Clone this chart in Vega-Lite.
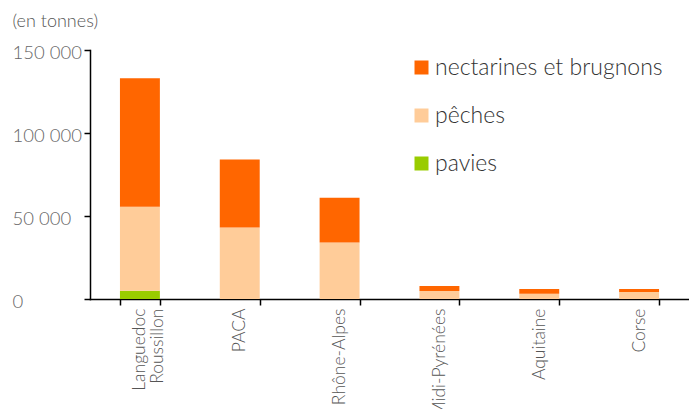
{
  "$schema": "https://vega.github.io/schema/vega-lite/v6.json",
  "autosize": "none",
  "width": 599,
  "height": 249,
  "padding": {"left": 90, "top": 50, "right": 0, "bottom": 110},
  "background": "white",
  "data": {
    "values": [
      {"region": "Languedoc\nRoussillon", "type": "pavies", "tonnes": 5000},
      {"region": "Languedoc\nRoussillon", "type": "pêches", "tonnes": 50500},
      {"region": "Languedoc\nRoussillon", "type": "nectarines et brugnons", "tonnes": 77500},
      {"region": "PACA", "type": "pêches", "tonnes": 43000},
      {"region": "PACA", "type": "nectarines et brugnons", "tonnes": 41000},
      {"region": "Rhône-Alpes", "type": "pêches", "tonnes": 34000},
      {"region": "Rhône-Alpes", "type": "nectarines et brugnons", "tonnes": 27000},
      {"region": "Midi-Pyrénées", "type": "pêches", "tonnes": 4800},
      {"region": "Midi-Pyrénées", "type": "nectarines et brugnons", "tonnes": 3000},
      {"region": "Aquitaine", "type": "pêches", "tonnes": 3200},
      {"region": "Aquitaine", "type": "nectarines et brugnons", "tonnes": 2800},
      {"region": "Corse", "type": "pêches", "tonnes": 4200},
      {"region": "Corse", "type": "nectarines et brugnons", "tonnes": 1800}
    ]
  },
  "transform": [
    {"calculate": "indexof(['pavies','pêches','nectarines et brugnons'], datum.type)", "as": "rang"}
  ],
  "mark": {"type": "bar"},
  "encoding": {
    "x": {
      "field": "region",
      "type": "nominal",
      "sort": null,
      "scale": {"paddingInner": 0.6, "paddingOuter": 0.3},
      "axis": {
        "title": null,
        "labelAngle": -90,
        "labelAlign": "right",
        "labelBaseline": "middle",
        "labelPadding": 3,
        "labelExpr": "split(datum.label, '\\n')",
        "labelLineHeight": 18,
        "labelFont": "Lato",
        "labelFontWeight": 300,
        "labelFontSize": 17.5,
        "labelColor": "#555555",
        "labelLimit": 0,
        "tickBand": "extent",
        "tickSize": 6,
        "tickWidth": 1.5,
        "tickColor": "#000000",
        "domainColor": "#000000",
        "domainWidth": 1.5,
        "grid": false
      }
    },
    "y": {
      "field": "tonnes",
      "type": "quantitative",
      "aggregate": "sum",
      "stack": "zero",
      "scale": {"domain": [0, 150000], "nice": false},
      "axis": {
        "values": [0, 50000, 100000, 150000],
        "labelExpr": "replace(format(datum.value, ','), ',', ' ')",
        "labelAlign": "left",
        "labelBaseline": "middle",
        "labelPadding": 72,
        "labelOffset": 2,
        "labelFont": "Lato",
        "labelFontWeight": 300,
        "labelFontSize": 18.5,
        "labelColor": "#666666",
        "tickSize": 6,
        "tickWidth": 1.5,
        "tickColor": "#000000",
        "domainColor": "#000000",
        "domainWidth": 1.5,
        "grid": false,
        "title": "(en tonnes)",
        "titleAngle": 0,
        "titleAlign": "left",
        "titleBaseline": "middle",
        "titleX": -78,
        "titleY": -29,
        "titleFont": "Lato",
        "titleFontWeight": 300,
        "titleFontSize": 18,
        "titleColor": "#555555"
      }
    },
    "color": {
      "field": "type",
      "type": "nominal",
      "scale": {
        "domain": ["nectarines et brugnons", "pêches", "pavies"],
        "range": ["#FF6600", "#FFCC99", "#99CC00"]
      },
      "legend": {
        "title": null,
        "orient": "none",
        "legendX": 320,
        "legendY": 6,
        "padding": 0,
        "symbolType": "square",
        "symbolSize": 196,
        "symbolStrokeWidth": 0,
        "symbolOpacity": 1,
        "labelFont": "Lato",
        "labelFontWeight": 300,
        "labelFontSize": 23,
        "labelColor": "#333333",
        "labelOffset": 2,
        "labelLimit": 0,
        "rowPadding": 24
      }
    },
    "order": {"field": "rang", "type": "quantitative", "sort": "ascending"}
  },
  "config": {
    "view": {"stroke": null},
    "axis": {"domainCap": "square"}
  }
}
